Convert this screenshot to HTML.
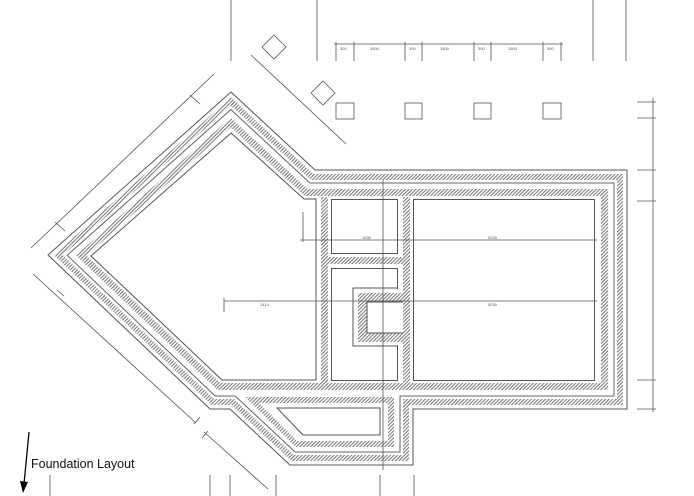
<!DOCTYPE html>
<html><head><meta charset="utf-8"><style>
html,body{margin:0;padding:0;background:#fff;}
svg{display:block;}
text{font-family:"Liberation Sans",sans-serif;}
</style></head><body>
<svg width="694" height="496" viewBox="0 0 694 496" xmlns="http://www.w3.org/2000/svg">
<defs>
<pattern id="h" patternUnits="userSpaceOnUse" width="2.5" height="2.5" patternTransform="rotate(45)">
<rect width="2.5" height="2.5" fill="#fff"/><rect width="0.9" height="2.5" fill="#666"/>
</pattern>
<clipPath id="cq"><polygon points="231,92 315,170 627,170 627,409 210,409 48,255"/></clipPath>
<clipPath id="co"><polygon points="231,92 315,170 627,170 627,409 413,409 413,465 290,465 230,409 210,409 48,255"/></clipPath>
</defs>
<rect width="694" height="496" fill="#fff"/>

<g clip-path="url(#cq)" fill="none" stroke-linejoin="miter" stroke-miterlimit="10">
<polygon points="231,92 315,170 627,170 627,409 210,409 48,255" stroke="url(#h)" stroke-width="52"/>
<polygon points="231,92 315,170 627,170 627,409 210,409 48,255" stroke="#fff" stroke-width="38"/>
</g>
<g clip-path="url(#co)" fill="none" stroke-linejoin="miter" stroke-miterlimit="10">
<polygon points="231,92 315,170 627,170 627,409 413,409 413,465 290,465 230,409 210,409 48,255" stroke="#666" stroke-width="27"/>
<polygon points="231,92 315,170 627,170 627,409 413,409 413,465 290,465 230,409 210,409 48,255" stroke="#fff" stroke-width="25"/>
<polygon points="231,92 315,170 627,170 627,409 413,409 413,465 290,465 230,409 210,409 48,255" stroke="url(#h)" stroke-width="20"/>
<polygon points="231,92 315,170 627,170 627,409 413,409 413,465 290,465 230,409 210,409 48,255" stroke="#fff" stroke-width="8"/>
</g>
<polygon points="231,92 315,170 627,170 627,409 413,409 413,465 290,465 230,409 210,409 48,255" fill="none" stroke="#555" stroke-width="1"/>

<polygon points="245,397 394,397 394,447 296,447" fill="url(#h)"/>
<polygon points="259,403 388,403 388,441 297,441" fill="#fff"/>
<polygon points="277,408 380,408 380,435 303,435" fill="none" stroke="#555"/>

<rect x="321" y="197" width="7" height="186" fill="url(#h)"/>
<rect x="403" y="197" width="7" height="186" fill="url(#h)"/>
<rect x="328" y="257" width="75" height="7" fill="url(#h)"/>

<g fill="#fff" stroke="#555" stroke-width="1">
<polygon points="231,133 304,199 316,199 316,380 222,380 91,256"/>
<rect x="331.5" y="199.5" width="66" height="54"/>
<rect x="331.5" y="268.5" width="66" height="112"/>
<rect x="413.5" y="199.5" width="181" height="181"/>
</g>
<polyline points="397,288 353,288 353,346 397,346" fill="#fff" stroke="#555"/>
<rect x="354" y="289" width="44" height="56" fill="#fff"/>
<rect x="358" y="293" width="50" height="49" fill="url(#h)"/>
<polyline points="403,302 367,302 367,333 403,333" fill="#fff" stroke="#555"/>
<rect x="368" y="303" width="35" height="29" fill="#fff"/>

<g stroke="#555" stroke-width="0.8" fill="none">
<line x1="383" y1="180" x2="383" y2="470"/>
<line x1="300" y1="240" x2="597" y2="240"/>
<line x1="303" y1="212" x2="303" y2="242"/>
<line x1="224" y1="301" x2="597" y2="301"/>
<line x1="224" y1="298" x2="224" y2="312"/>
<line x1="653" y1="98" x2="653" y2="412"/>
<line x1="637" y1="102" x2="656" y2="102"/>
<line x1="637" y1="118" x2="656" y2="118"/>
<line x1="637" y1="170" x2="656" y2="170"/>
<line x1="637" y1="201" x2="656" y2="201"/>
<line x1="637" y1="380" x2="656" y2="380"/>
<line x1="637" y1="409" x2="656" y2="409"/>
<line x1="231" y1="0" x2="231" y2="61"/>
<line x1="317" y1="0" x2="317" y2="61"/>
<line x1="593" y1="0" x2="593" y2="61"/>
<line x1="626" y1="0" x2="626" y2="61"/>
<line x1="334" y1="44" x2="563" y2="44"/>
<line x1="336" y1="42" x2="336" y2="61"/><line x1="354" y1="42" x2="354" y2="61"/>
<line x1="405" y1="42" x2="405" y2="61"/><line x1="422" y1="42" x2="422" y2="61"/>
<line x1="474" y1="42" x2="474" y2="61"/><line x1="491" y1="42" x2="491" y2="61"/>
<line x1="543" y1="42" x2="543" y2="61"/><line x1="561" y1="42" x2="561" y2="61"/>
<rect x="336" y="103" width="18" height="16"/>
<rect x="405" y="103" width="17" height="16"/>
<rect x="474" y="103" width="17" height="16"/>
<rect x="543" y="103" width="18" height="16"/>
<polygon points="274,35 286,47 274,59 262,47"/>
<polygon points="323,81 335,93 323,105 311,93"/>
<line x1="251" y1="55" x2="346" y2="144"/>
<line x1="214" y1="74" x2="31" y2="248"/>
<line x1="190" y1="95" x2="200" y2="104"/>
<line x1="55" y1="222" x2="65" y2="231"/>
<line x1="33" y1="274" x2="196" y2="423"/>
<line x1="57" y1="290" x2="64" y2="296"/>
<line x1="200" y1="417" x2="194" y2="424"/>
<line x1="204" y1="432" x2="268" y2="489"/>
<line x1="202" y1="438" x2="208" y2="431"/>
<line x1="50" y1="475" x2="50" y2="496"/>
<line x1="210" y1="475" x2="210" y2="496"/>
<line x1="230" y1="475" x2="230" y2="496"/>
<line x1="276" y1="475" x2="276" y2="496"/>
<line x1="380" y1="475" x2="380" y2="496"/>
<line x1="414" y1="475" x2="414" y2="496"/>
</g>
<g font-size="4" fill="#555">
<text x="488" y="239">5230</text><text x="488" y="306">5230</text>
<text x="362" y="239">1630</text><text x="260" y="306">2414</text>
<text x="340" y="50">300</text><text x="370" y="50">1500</text><text x="409" y="50">300</text>
<text x="440" y="50">1500</text><text x="478" y="50">300</text><text x="508" y="50">1500</text><text x="547" y="50">300</text>
</g>
<line x1="29" y1="432" x2="24" y2="484" stroke="#000" stroke-width="1.3"/>
<polygon points="20,481 28,482 23,493" fill="#000"/>
<text x="31" y="468" font-size="12.5" fill="#111">Foundation Layout</text>
</svg>
</body></html>
